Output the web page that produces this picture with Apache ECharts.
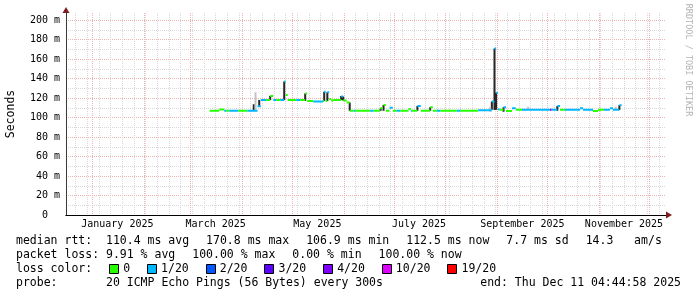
<!DOCTYPE html>
<html><head><meta charset="utf-8">
<script src="https://cdn.jsdelivr.net/npm/echarts@6/dist/echarts.min.js"></script>
<style>html,body{margin:0;padding:0;background:#fff}#c{width:697px;height:297px}</style>
</head><body><div id="c"></div>
<script>
// ---------- data ----------
const rangeStart = '2024-12-16 04:45';
const rangeEnd = '2025-12-11 04:45';
const monthLines = ['2025-01-01','2025-02-01','2025-03-01','2025-04-01','2025-05-01','2025-06-01','2025-07-01','2025-08-01','2025-09-01','2025-10-01','2025-11-01','2025-12-01'];
const monthLabelDates = ['2025-01-16','2025-03-16','2025-05-16','2025-07-16','2025-09-16','2025-11-16'];
const monthLabelTexts = ['January 2025','March 2025','May 2025','July 2025','September 2025','November 2025'];
const firstWeekLine = '2024-12-22';
const yLabelValues = [0,20,40,60,80,100,120,140,160,180,200];
const yMinorValues = [10,30,50,70,90,110,130,150,170,190];
const yMax = 207.2;

const lossLabels = ['0','1/20','2/20','3/20','4/20','10/20','19/20'];
const lossColors = ['#26ff00','#00b8ff','#0059ff','#5e00ff','#7e00ff','#dd00ff','#ff0000'];

// median rtt (ms) per run: start time, value, loss class index
const medianStart = [
 '2025-03-12 08:00','2025-03-18 04:00','2025-03-21 04:00','2025-03-22 08:00','2025-03-24 04:00','2025-03-29 13:00','2025-04-03 23:00','2025-04-10 03:00',
 '2025-04-12 01:00','2025-04-15 08:00','2025-04-17 17:00','2025-04-19 13:00','2025-04-21 08:00','2025-04-23 17:00','2025-04-26 03:00','2025-04-27 01:00',
 '2025-04-28 05:00','2025-05-03 08:00','2025-05-05 17:00','2025-05-08 17:00','2025-05-09 22:00','2025-05-13 12:00','2025-05-19 12:00','2025-05-20 03:00',
 '2025-05-21 00:00','2025-05-21 22:00','2025-05-23 03:00','2025-05-24 07:00','2025-05-25 12:00','2025-05-30 07:00','2025-05-31 12:00','2025-06-02 15:00',
 '2025-06-04 10:00','2025-06-06 17:00','2025-06-07 17:00','2025-06-16 17:00','2025-06-18 17:00','2025-06-22 17:00','2025-06-24 07:00','2025-06-24 17:00',
 '2025-06-26 02:00','2025-06-28 07:00','2025-06-30 07:00','2025-07-02 17:00','2025-07-04 17:00','2025-07-09 17:00','2025-07-11 02:00','2025-07-11 17:00',
 '2025-07-15 01:00','2025-07-17 02:00','2025-07-22 17:00','2025-07-24 07:00','2025-07-26 17:00','2025-07-28 17:00','2025-08-07 17:00','2025-08-09 17:00',
 '2025-08-20 12:00','2025-08-28 17:00','2025-08-30 07:00','2025-08-31 07:00','2025-09-01 07:00','2025-09-02 07:00','2025-09-04 17:00','2025-09-06 05:00',
 '2025-09-09 19:00','2025-09-12 02:00','2025-09-15 19:00','2025-10-02 14:00','2025-10-03 14:00','2025-10-07 00:00','2025-10-08 14:00','2025-10-11 14:00',
 '2025-10-20 14:00','2025-10-22 10:00','2025-10-28 10:00','2025-10-31 10:00','2025-11-04 00:00','2025-11-07 14:00','2025-11-09 10:00','2025-11-13 05:00'
];
const medianValue = [
 107.0,108.3,107.0,107.0,107.0,107.0,107.0,111.5,
 118.0,118.0,122.0,118.0,118.0,118.0,137.0,123.0,
 118.0,118.0,118.0,124.5,117.0,116.5,117.0,126.5,
 117.0,126.0,119.0,117.5,118.0,121.5,117.5,115.5,
 107.0,107.0,107.0,107.0,107.0,109.4,107.0,112.8,
 107.0,110.0,107.0,107.0,107.0,108.7,107.0,107.0,
 111.8,107.0,110.4,107.0,107.0,107.0,107.0,107.0,
 107.5,116.5,170.8,125.5,108.4,108.0,110.5,106.8,
 109.4,108.0,108.0,108.0,108.0,111.8,108.0,108.0,
 109.4,108.0,106.6,108.0,108.0,109.4,108.0,112.5
];
const medianLoss = [
 0,0,1,0,1,0,1,1,
 1,0,0,1,0,1,1,0,
 0,1,0,0,0,1,0,1,
 0,1,0,0,0,1,0,0,
 0,1,0,1,0,0,0,0,
 0,1,0,1,0,0,1,0,
 1,0,0,0,1,0,1,0,
 1,1,1,1,1,0,1,0,
 1,0,1,4,1,1,0,1,
 1,1,0,0,1,1,1,1
];
const medianEnd = '2025-11-14 14:00';

// smoke (spread of ping times) columns
const smokeDate = ['2025-04-07 20:00','2025-04-08 22:00','2025-04-11 03:00','2025-04-17 17:00','2025-04-26 03:00','2025-05-08 17:00','2025-05-20 03:00','2025-05-22 00:00',
 '2025-05-30 07:00','2025-05-31 12:00','2025-06-04 10:00','2025-06-23 00:00','2025-06-24 17:00','2025-07-15 01:00','2025-07-22 17:00','2025-08-27 17:00',
 '2025-08-28 17:00','2025-08-30 07:00','2025-08-31 07:00','2025-09-04 17:00','2025-09-19 12:00','2025-10-07 00:00','2025-11-11 00:00','2025-11-13 05:00'];
const smokeLow  = [107,108,111.5,118,118,117,117,117, 118,117.5,107,107,107,107,107,106, 108,107.7,108,106,107.7,107,108,107.7];
const smokeHigh = [113.5,126,118,122,137,124.5,126.5,126, 122,121.5,115.5,109.4,112.8,111.8,110.4,111, 116.5,170.8,125.5,110.5,111,111.8,111,112.5];
const smokeShade = [0,1,0,0,0,0,0,0, 0,0,0,0,0,0,0,1, 0,0,0,0,1,0,1,0];
const smokeColors = ['#262626','#c4c4c4'];

const legendRow1 = ['median rtt:  110.4 ms avg','170.8 ms max','106.9 ms min','112.5 ms now','7.7 ms sd','14.3   am/s'];
const legendRow2 = ['packet loss: 9.91 % avg','100.00 % max','0.00 % min','100.00 % now'];
const legendRow3Title = 'loss color:';
const legendRow4 = 'probe:       20 ICMP Echo Pings (56 Bytes) every 300s';
const legendEnd = 'end: Thu Dec 11 04:44:58 2025';
const yAxisTitle = 'Seconds';
const watermark = 'RRDTOOL / TOBI OETIKER';

// ---------- build ----------
const toMs = s => { const p = s.split(' '); return Date.parse(p[0] + 'T' + (p[1] || '00:00') + ':00Z'); };
const DAY = 86400000;
const xMin = toMs(rangeStart), xMax = toMs(rangeEnd);
const weekLines = [];
for (let t = toMs(firstWeekLine); t < xMax; t += 7 * DAY) weekLines.push(t);
const labelMs = monthLabelDates.map(toMs);

const MONO = '"DejaVu Sans Mono", monospace';
const gridMinor = '#d9d9d9';
const gridMajor = '#efb3b3';
const arrowColor = '#801f1f';

const smokeSeries = smokeColors.map((c, k) => {
  const data = [];
  smokeDate.forEach((d, i) => {
    if (smokeShade[i] !== k) return;
    const t = toMs(d);
    data.push([t, smokeLow[i]], [t, smokeHigh[i]], [t, '-']);
  });
  return { type: 'line', data, symbol: 'none', silent: true, connectNulls: false,
    lineStyle: { color: c, width: 2, cap: 'butt' }, itemStyle: { color: c }, z: 2 };
});
const medianSeries = lossColors.map((c, k) => {
  const data = [];
  medianStart.forEach((s, i) => {
    if (medianLoss[i] !== k) return;
    const a = toMs(s), b = toMs(i + 1 < medianStart.length ? medianStart[i + 1] : medianEnd);
    data.push([a, medianValue[i]], [b, medianValue[i]], [b, '-']);
  });
  return { type: 'line', name: lossLabels[k], data, symbol: 'none', silent: true, connectNulls: false,
    lineStyle: { color: c, width: 2, cap: 'butt' }, itemStyle: { color: c }, z: 3 };
});

// legend graphics
const LEG_FONT = '11.5px ' + MONO;
const cv = document.createElement('canvas').getContext('2d');
cv.font = LEG_FONT;
const tw = s => cv.measureText(s).width;
const GAP = 17, LX = 16;
const graphics = [];
const txt = (x, y, text, extra) => graphics.push(Object.assign({ type: 'text', x, y, silent: true,
  style: { text, font: LEG_FONT, fill: '#000', align: 'left', verticalAlign: 'middle', textAlign: 'left', textVerticalAlign: 'middle' } }, extra || {}));
function row(items, y) { let x = LX; items.forEach(s => { txt(x, y, s); x += tw(s) + GAP; }); }
row(legendRow1, 241);
row(legendRow2, 255);
let cx = LX; txt(cx, 269, legendRow3Title); cx += tw(legendRow3Title) + GAP;
lossLabels.forEach((lab, k) => {
  graphics.push({ type: 'rect', silent: true, shape: { x: Math.round(cx) + 0.5, y: 264.5, width: 9, height: 9 },
    style: { fill: lossColors[k], stroke: '#000', lineWidth: 1 } });
  txt(cx + 14, 269, lab);
  cx += 14 + tw(lab) + GAP;
});
txt(LX, 283, legendRow4);
graphics.push({ type: 'text', x: 681, y: 283, silent: true,
  style: { text: legendEnd, font: LEG_FONT, fill: '#000', align: 'right', verticalAlign: 'middle', textAlign: 'right', textVerticalAlign: 'middle' } });
graphics.push({ type: 'text', x: 11, y: 114, rotation: Math.PI / 2, silent: true,
  style: { text: yAxisTitle, font: LEG_FONT, fill: '#000', align: 'center', verticalAlign: 'middle', textAlign: 'center', textVerticalAlign: 'middle' } });
graphics.push({ type: 'text', x: 688, y: 60, rotation: -Math.PI / 2, silent: true,
  style: { text: watermark, font: '8.5px ' + MONO, fill: '#b4b4b4', align: 'center', verticalAlign: 'middle', textAlign: 'center', textVerticalAlign: 'middle' } });

const axisFont = { fontFamily: MONO, fontSize: 10, color: '#000' };
const option = {
  animation: false,
  backgroundColor: '#fff',
  grid: { left: 66, top: 13, width: 600, height: 202, show: false },
  xAxis: [
    { type: 'value', min: xMin, max: xMax, position: 'bottom',
      axisLine: { show: true, symbol: ['none', 'triangle'], symbolSize: [7, 6], symbolOffset: [0, 3], lineStyle: { color: arrowColor, width: 1 } },
      axisTick: { show: false, customValues: weekLines }, axisLabel: { show: false },
      splitLine: { show: true, lineStyle: { color: gridMinor, width: 1, type: [1, 1] } } },
    { type: 'value', min: xMin, max: xMax, position: 'bottom',
      axisLine: { show: true, lineStyle: { color: '#000', width: 1 } },
      axisTick: { show: false, customValues: monthLines.map(toMs) },
      axisLabel: Object.assign({ show: true, customValues: labelMs, margin: 4,
        formatter: v => monthLabelTexts[labelMs.indexOf(v)] || '' }, axisFont),
      splitLine: { show: true, lineStyle: { color: gridMajor, width: 1, type: [1, 1] } } }
  ],
  yAxis: [
    { type: 'value', min: 0, max: yMax, position: 'left',
      axisLine: { show: true, symbol: ['none', 'triangle'], symbolSize: [7, 6], symbolOffset: [0, 3], lineStyle: { color: arrowColor, width: 1 } },
      axisTick: { show: false, customValues: yMinorValues }, axisLabel: { show: false },
      splitLine: { show: true, lineStyle: { color: gridMinor, width: 1, type: [1, 1] } } },
    { type: 'value', min: 0, max: yMax, position: 'left',
      axisLine: { show: true, lineStyle: { color: '#3a3a3a', width: 1 } },
      axisTick: { show: false, customValues: yLabelValues.filter(v => v > 0) },
      axisLabel: Object.assign({ show: true, customValues: yLabelValues, margin: 6,
        formatter: v => v === 0 ? '0  ' : v + ' m' }, axisFont),
      splitLine: { show: true, lineStyle: { color: gridMajor, width: 1, type: [1, 1] } } }
  ],
  series: smokeSeries.concat(medianSeries),
  graphic: graphics
};
const chart = echarts.init(document.getElementById('c'), null, { renderer: 'canvas' });
chart.setOption(option);
</script>
</body></html>
